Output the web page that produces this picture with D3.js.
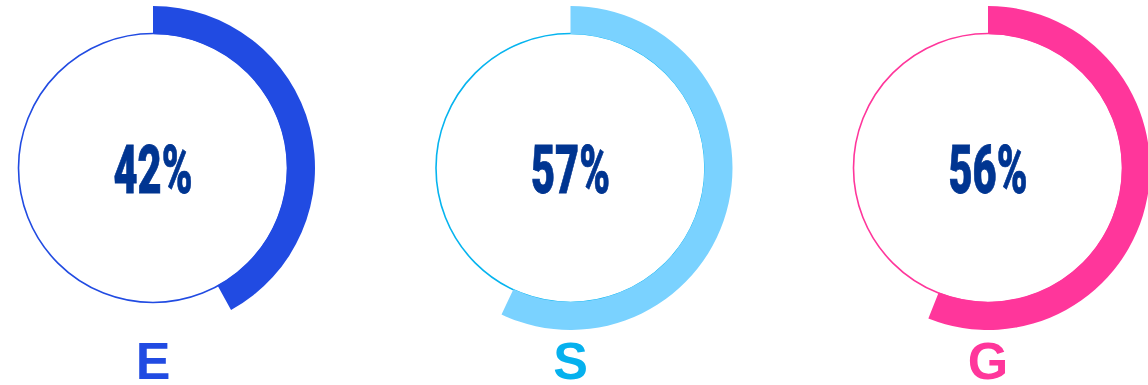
<!DOCTYPE html>
<html>
<head>
<meta charset="utf-8">
<script src="https://cdn.jsdelivr.net/npm/d3@7"></script>
<style>
  html, body { margin: 0; padding: 0; background: #ffffff; }
  svg { display: block; }
</style>
</head>
<body>
<svg id="chart" width="1148" height="385"></svg>
<script>
// ESG scores, one gauge per pillar
const categories = ["E", "S", "G"];
const values = [42, 57, 56];
const arcColors = ["#214be2", "#7ad2ff", "#ff369b"];
const ringColors = ["#214be2", "#06b4ef", "#ff369b"];
const labelColors = ["#214be2", "#06b1ee", "#ff369b"];

const width = 1148, height = 385;
const cy = 168;
const ringR = 134.5;
const innerR = 134, outerR = 162;

const svg = d3.select("#chart");

const x = d3.scalePoint().domain(categories).range([153, 988]);
const angle = d3.scaleLinear().domain([0, 100]).range([0, 2 * Math.PI]);

const arc = d3.arc()
  .innerRadius(innerR)
  .outerRadius(outerR)
  .startAngle(0)
  .endAngle(d => angle(d.value));

const data = categories.map((c, i) => ({
  cat: c, value: values[i],
  arcColor: arcColors[i], ringColor: ringColors[i], labelColor: labelColors[i]
}));

const g = svg.selectAll("g.gauge")
  .data(data)
  .join("g")
  .attr("class", "gauge")
  .attr("transform", d => `translate(${x(d.cat)},${cy})`);

g.append("circle")
  .attr("r", ringR)
  .attr("fill", "none")
  .attr("stroke", d => d.ringColor)
  .attr("stroke-width", 1.6);

g.append("path")
  .attr("d", arc)
  .attr("fill", d => d.arcColor);

// condensed percentage figure
g.append("text")
  .attr("transform", "translate(0,25) scale(0.62,1)")
  .attr("text-anchor", "middle")
  .attr("font-family", "Roboto, 'Liberation Sans', sans-serif")
  .attr("font-weight", 900)
  .attr("font-size", 67)
  .attr("fill", "#003591")
  .attr("stroke", "#003591")
  .attr("stroke-width", 0.8)
  .text(d => d.value + "%");

g.append("text")
  .attr("y", 379 - cy)
  .attr("text-anchor", "middle")
  .attr("font-family", "'Liberation Sans', Arial, sans-serif")
  .attr("font-weight", 700)
  .attr("font-size", 52)
  .attr("fill", d => d.labelColor)
  .text(d => d.cat);
</script>
</body>
</html>
